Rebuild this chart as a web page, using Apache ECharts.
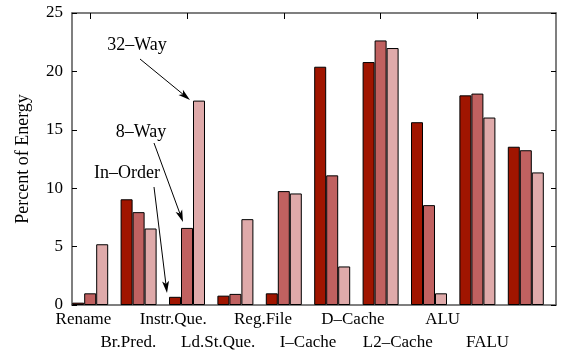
<!DOCTYPE html>
<html>
<head>
<meta charset="utf-8">
<title>Percent of Energy</title>
<script src="https://cdn.jsdelivr.net/npm/echarts@6/dist/echarts.min.js"></script>
<style>
  html, body { margin: 0; padding: 0; background: #fff; }
  #chart { width: 561px; height: 354px; }
</style>
</head>
<body>
<div id="chart"></div>
<script>
// data
var categories = ['Rename', 'Br.Pred.', 'Instr.Que.', 'Ld.St.Que.', 'Reg.File', 'I–Cache', 'D–Cache', 'L2–Cache', 'ALU', 'FALU'];
var inOrder = [0.2, 9.05, 0.7, 0.8, 1.0, 20.4, 20.8, 15.65, 17.95, 13.55];
var way8 = [1.0, 7.95, 6.6, 0.95, 9.75, 11.1, 22.65, 8.55, 18.1, 13.25];
var way32 = [5.2, 6.55, 17.5, 7.35, 9.55, 3.3, 22.0, 1.0, 16.05, 11.35];
var yTicks = [0, 5, 10, 15, 20, 25];

var FONT = '"Liberation Serif", "DejaVu Serif", serif';
var AXIS = '#555';

// arrow from (x1,y1) to (x2,y2) with filled head
function arrow(x1, y1, x2, y2) {
    var dx = x2 - x1, dy = y2 - y1;
    var len = Math.sqrt(dx * dx + dy * dy);
    var ux = dx / len, uy = dy / len;
    var hl = 12, hw = 3.5;
    var bx = x2 - ux * hl, by = y2 - uy * hl;
    var nx = x2 - ux * (hl - 3), ny = y2 - uy * (hl - 3);
    return [{
        type: 'line',
        shape: {x1: x1, y1: y1, x2: nx, y2: ny},
        style: {stroke: '#000', lineWidth: 1}
    }, {
        type: 'polygon',
        shape: {points: [[x2, y2], [bx - uy * hw, by + ux * hw], [nx, ny], [bx + uy * hw, by - ux * hw]]},
        style: {fill: '#000'}
    }];
}

function label(txt, x, y) {
    return {
        type: 'text',
        x: x, y: y,
        style: {text: txt, font: '18px ' + FONT, fill: '#000', align: 'center', verticalAlign: 'middle'}
    };
}

var graphics = [].concat(
    [label('32–Way', 137, 45), label('8–Way', 141, 132), label('In–Order', 127, 173)],
    arrow(140, 59, 190, 100),
    arrow(154, 143, 183, 222),
    arrow(154, 187, 167, 293)
);

var frameLine = {show: true, onZero: false, lineStyle: {color: AXIS, width: 1.5}};

var chart = echarts.init(document.getElementById('chart'));
var option = {
    animation: false,
    textStyle: {fontFamily: FONT, color: '#000'},
    grid: [
        {left: 72, right: 5, top: 13, bottom: 49},   // frame
        {left: 66, right: 11, top: 13, bottom: 49},  // bars
        {left: 61, right: 51, top: 13, bottom: 49}   // category labels
    ],
    xAxis: [
        {gridIndex: 0, type: 'value', min: 0, max: 1, position: 'bottom', axisLine: frameLine,
            axisTick: {show: false}, axisLabel: {show: false}, splitLine: {show: false}},
        {gridIndex: 0, type: 'value', min: 0, max: 1, position: 'top', axisLine: frameLine,
            axisTick: {show: false}, axisLabel: {show: false}, splitLine: {show: false}},
        {gridIndex: 1, type: 'category', data: categories, show: false},
        {gridIndex: 1, type: 'category', data: categories, position: 'top',
            axisLine: {show: false},
            axisTick: {show: true, inside: true, alignWithLabel: true, length: 6, lineStyle: {color: '#000', width: 1}},
            axisLabel: {show: false}, splitLine: {show: false}},
        {gridIndex: 2, type: 'category', data: categories, position: 'bottom',
            axisLine: {show: false}, axisTick: {show: false},
            axisLabel: {
                interval: 0, fontSize: 17, fontFamily: FONT, color: '#000',
                margin: 7, lineHeight: 23,
                formatter: function (v, i) { return i % 2 ? '\n' + v : v; }
            }}
    ],
    yAxis: [
        {gridIndex: 0, type: 'value', min: yTicks[0], max: yTicks[yTicks.length - 1], interval: 5,
            name: 'Percent of Energy', nameLocation: 'middle', nameGap: 40,
            nameTextStyle: {fontSize: 18, fontFamily: FONT, color: '#000'},
            axisLine: frameLine,
            axisTick: {show: true, inside: true, length: 5, lineStyle: {color: '#000'}},
            axisLabel: {fontSize: 17, fontFamily: FONT, color: '#000', margin: 9},
            splitLine: {show: false}},
        {gridIndex: 0, type: 'value', min: 0, max: 25, interval: 5, position: 'right',
            axisLine: frameLine,
            axisTick: {show: true, inside: true, length: 5, lineStyle: {color: '#000'}},
            axisLabel: {show: false}, splitLine: {show: false}},
        {gridIndex: 1, type: 'value', min: 0, max: 25, show: false},
        {gridIndex: 2, type: 'value', min: 0, max: 25, show: false}
    ],
    series: [
        {name: 'In-Order', type: 'bar', xAxisIndex: 2, yAxisIndex: 2, data: inOrder,
            barWidth: 12, barGap: '0%',
            itemStyle: {color: '#a01500', borderColor: '#000', borderWidth: 1}},
        {name: '8-Way', type: 'bar', xAxisIndex: 2, yAxisIndex: 2, data: way8,
            barWidth: 12, barGap: '0%',
            itemStyle: {color: '#c06160', borderColor: '#000', borderWidth: 1}},
        {name: '32-Way', type: 'bar', xAxisIndex: 2, yAxisIndex: 2, data: way32,
            barWidth: 12, barGap: '0%',
            itemStyle: {color: '#dfaaaa', borderColor: '#000', borderWidth: 1}}
    ],
    graphic: graphics
};
chart.setOption(option);
</script>
</body>
</html>
